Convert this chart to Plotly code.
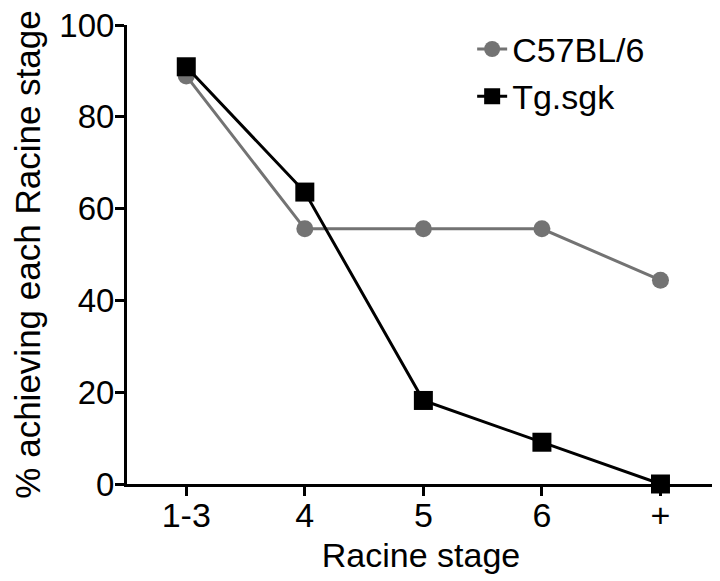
import plotly.graph_objects as go

stages = ["1-3", "4", "5", "6", "+"]
c57_values = [88.9, 55.6, 55.6, 55.6, 44.4]
tg_values = [90.9, 63.6, 18.2, 9.1, 0.0]
y_ticks = [0, 20, 40, 60, 80, 100]

FONT = "Liberation Sans, Arial, Helvetica, sans-serif"

fig = go.Figure()
fig.add_trace(go.Scatter(
    x=stages, y=c57_values, name="C57BL/6", mode="lines+markers",
    line=dict(color="#737373", width=3),
    marker=dict(symbol="circle", size=17, color="#737373"),
    cliponaxis=False, legendgroup="a",
))
fig.add_trace(go.Scatter(
    x=stages, y=tg_values, name="Tg.sgk", mode="lines+markers",
    line=dict(color="#000000", width=3),
    marker=dict(symbol="square", size=19, color="#000000"),
    cliponaxis=False, legendgroup="b",
))

fig.update_layout(
    width=720, height=581,
    margin=dict(l=119, r=13, t=12, b=105),
    paper_bgcolor="white", plot_bgcolor="white",
    font=dict(family=FONT, size=32, color="black"),
    showlegend=True,
    legend=dict(x=0.587, y=1.01, xanchor="left", yanchor="top",
                font=dict(size=34), tracegroupgap=0,
                bgcolor="rgba(0,0,0,0)", borderwidth=0),
    xaxis=dict(
        range=[-0.5, 4.46], showgrid=False, zeroline=False, automargin=False,
        showline=True, linecolor="black", linewidth=3,
        ticks="outside", ticklen=9, tickwidth=3, tickcolor="black",
        tickfont=dict(size=34), ticklabelstandoff=-10,
        title=dict(text="Racine stage", font=dict(size=34), standoff=11),
    ),
    yaxis=dict(
        range=[0, 100], tickvals=y_ticks, showgrid=False, zeroline=False, automargin=False,
        showline=True, linecolor="black", linewidth=3,
        ticks="outside", ticklen=9, tickwidth=3, tickcolor="black",
        tickfont=dict(size=33), ticklabelstandoff=-6, ticklabeloverflow="allow",
        title=dict(text="\u00a0\u00a0\u00a0% achieving each Racine stage", font=dict(size=35), standoff=46),
    ),
)

fig.write_html("out.html")
